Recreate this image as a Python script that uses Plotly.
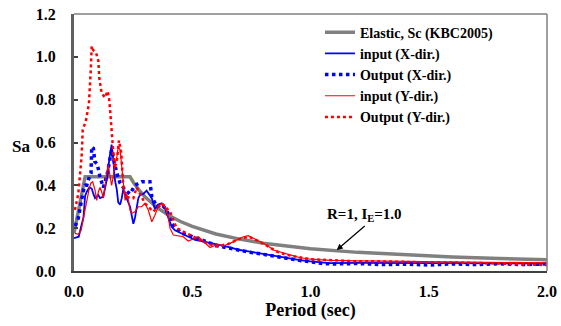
import plotly.graph_objects as go

# Elastic design spectrum (KBC2005, Sc)
period_elastic = [0.0, 0.047, 0.237, 0.25, 0.275, 0.3, 0.35, 0.4, 0.45, 0.5, 0.6, 0.7, 0.8, 0.9, 1.0,
                  1.2, 1.4, 1.6, 1.8, 2.0]
sa_elastic = [0.176, 0.44, 0.44, 0.416, 0.378, 0.347, 0.297, 0.26, 0.231, 0.208, 0.173, 0.149, 0.13, 0.116,
              0.104, 0.087, 0.074, 0.065, 0.058, 0.052]

# input (X-dir.)
period_in_x = [0.0, 0.02, 0.03, 0.04, 0.047, 0.054, 0.065, 0.075, 0.082, 0.089, 0.103, 0.11, 0.124, 0.131,
               0.141, 0.149, 0.159, 0.166, 0.173, 0.181, 0.187, 0.195, 0.202, 0.208, 0.216, 0.223, 0.23,
               0.237, 0.244, 0.251, 0.258, 0.265, 0.272, 0.279, 0.293, 0.307, 0.321, 0.329, 0.335, 0.342,
               0.356, 0.371, 0.385, 0.399, 0.413, 0.427, 0.455, 0.483, 0.512, 0.54, 0.575, 0.617, 0.66,
               0.70, 0.744, 0.786, 0.83, 0.87, 0.913, 0.956, 1.0, 1.04, 1.08, 1.2, 1.4, 1.6, 1.8, 2.0]
sa_in_x = [0.153, 0.16, 0.207, 0.25, 0.35, 0.37, 0.39, 0.385, 0.36, 0.34, 0.355, 0.34, 0.347, 0.38,
           0.44, 0.52, 0.59, 0.52, 0.425, 0.38, 0.32, 0.31, 0.34, 0.38, 0.36, 0.34, 0.32,
           0.30, 0.26, 0.22, 0.25, 0.30, 0.34, 0.355, 0.36, 0.375, 0.355, 0.34, 0.316, 0.29,
           0.31, 0.316, 0.29, 0.25, 0.207, 0.19, 0.176, 0.16, 0.145, 0.14, 0.13, 0.121, 0.11,
           0.098, 0.09, 0.082, 0.075, 0.067, 0.059, 0.051, 0.045, 0.04, 0.037, 0.038, 0.038, 0.036, 0.036, 0.034]

# Output (X-dir.)
period_out_x = [0.005, 0.018, 0.025, 0.033, 0.04, 0.047, 0.054, 0.065, 0.072, 0.075, 0.082, 0.088, 0.098,
                0.11, 0.124, 0.14, 0.159, 0.181, 0.195, 0.216, 0.237, 0.258, 0.286, 0.321, 0.329, 0.35,
                0.371, 0.392, 0.413, 0.427, 0.455, 0.483, 0.52, 0.56, 0.6, 0.65, 0.7, 0.75, 0.8, 0.85,
                0.9, 0.95, 1.0, 1.05, 1.1, 1.2, 1.3, 1.4, 1.5, 1.6, 1.7, 1.8, 1.9, 2.0]
sa_out_x = [0.21, 0.246, 0.29, 0.347, 0.378, 0.40, 0.40, 0.44, 0.456, 0.58, 0.573, 0.51, 0.50,
            0.44, 0.39, 0.45, 0.565, 0.456, 0.41, 0.378, 0.36, 0.40, 0.417, 0.417, 0.347, 0.30,
            0.31, 0.285, 0.22, 0.207, 0.176, 0.168, 0.153, 0.135, 0.12, 0.108, 0.095, 0.086, 0.078, 0.068,
            0.058, 0.05, 0.043, 0.035, 0.033, 0.035, 0.03, 0.032, 0.028, 0.033, 0.03, 0.034, 0.03, 0.033]

# input (Y-dir.)
period_in_y = [0.004, 0.018, 0.03, 0.039, 0.047, 0.054, 0.063, 0.071, 0.079, 0.089, 0.096, 0.103, 0.11,
               0.117, 0.124, 0.131, 0.138, 0.145, 0.152, 0.159, 0.166, 0.173, 0.181, 0.187, 0.195, 0.202,
               0.208, 0.216, 0.223, 0.23, 0.237, 0.244, 0.258, 0.272, 0.286, 0.30, 0.314, 0.329, 0.342,
               0.356, 0.371, 0.385, 0.399, 0.406, 0.42, 0.441, 0.462, 0.483, 0.498, 0.512, 0.526, 0.54,
               0.561, 0.575, 0.603, 0.631, 0.66, 0.688, 0.716, 0.737, 0.758, 0.786, 0.815, 0.843, 0.871,
               0.913, 0.956, 1.0, 1.04, 1.08, 1.2, 1.4, 1.6, 1.8, 2.0]
sa_in_y = [0.176, 0.171, 0.19, 0.24, 0.30, 0.33, 0.378, 0.41, 0.417, 0.378, 0.33, 0.37, 0.39,
           0.37, 0.34, 0.39, 0.46, 0.495, 0.44, 0.40, 0.44, 0.50, 0.53, 0.58, 0.565, 0.487,
           0.39, 0.33, 0.36, 0.33, 0.285, 0.27, 0.277, 0.30, 0.30, 0.316, 0.285, 0.23, 0.26,
           0.30, 0.316, 0.30, 0.25, 0.20, 0.168, 0.165, 0.16, 0.14, 0.145, 0.153, 0.16, 0.145,
           0.121, 0.11, 0.123, 0.117, 0.129, 0.145, 0.16, 0.165, 0.153, 0.137, 0.121, 0.098, 0.09,
           0.075, 0.062, 0.055, 0.051, 0.05, 0.047, 0.045, 0.043, 0.04, 0.038]

# Output (Y-dir.)
period_out_y = [0.004, 0.018, 0.032, 0.037, 0.05, 0.063, 0.071, 0.075, 0.082, 0.093, 0.103, 0.107, 0.117,
                0.131, 0.142, 0.148, 0.152, 0.155, 0.159, 0.163, 0.172, 0.182, 0.19, 0.2, 0.209, 0.223,
                0.237, 0.251, 0.265, 0.279, 0.30, 0.335, 0.371, 0.406, 0.434, 0.476, 0.518, 0.56, 0.6,
                0.65, 0.7, 0.74, 0.78, 0.82, 0.86, 0.9, 0.95, 1.0, 1.1, 1.2, 1.3, 1.4, 1.5, 1.6, 1.7,
                1.8, 1.9, 2.0]
sa_out_y = [0.285, 0.36, 0.53, 0.66, 0.70, 0.78, 0.94, 1.05, 1.03, 1.02, 0.98, 0.90, 0.83,
            0.81, 0.84, 0.81, 0.76, 0.70, 0.64, 0.60, 0.48, 0.52, 0.61, 0.55, 0.378, 0.347,
            0.34, 0.34, 0.39, 0.36, 0.316, 0.277, 0.316, 0.277, 0.20, 0.176, 0.153, 0.13, 0.115,
            0.125, 0.15, 0.16, 0.14, 0.115, 0.09, 0.075, 0.065, 0.055, 0.05, 0.045, 0.045, 0.042, 0.04,
            0.04, 0.038, 0.035, 0.03, 0.028]

series_names = ["Elastic, Sc (KBC2005)", "input (X-dir.)", "Output (X-dir.)",
                "input (Y-dir.)", "Output (Y-dir.)"]

x_ticks = [0.0, 0.5, 1.0, 1.5, 2.0]
y_ticks = [0.0, 0.2, 0.4, 0.6, 0.8, 1.0, 1.2]

FONT = "Liberation Serif"

fig = go.Figure()
fig.add_trace(go.Scatter(x=period_elastic, y=sa_elastic, mode="lines", name=series_names[0],
                         line=dict(color="#808080", width=3.5)))
fig.add_trace(go.Scatter(x=period_in_x, y=sa_in_x, mode="lines", name=series_names[1],
                         line=dict(color="#0000FF", width=1.8)))
fig.add_trace(go.Scatter(x=period_out_x, y=sa_out_x, mode="lines", name=series_names[2],
                         line=dict(color="#0000FF", width=3.5, dash="dot")))
fig.add_trace(go.Scatter(x=period_in_y, y=sa_in_y, mode="lines", name=series_names[3],
                         line=dict(color="#FF0000", width=1.2)))
fig.add_trace(go.Scatter(x=period_out_y, y=sa_out_y, mode="lines", name=series_names[4],
                         line=dict(color="#FF0000", width=2.5, dash="dot")))

fig.update_layout(
    width=561, height=326,
    margin=dict(l=74, r=14, t=14, b=55, autoexpand=False),
    plot_bgcolor="white", paper_bgcolor="white",
    font=dict(family=FONT, color="black", size=15, weight="bold"),
    showlegend=True,
    legend=dict(x=0.52, y=0.99, xanchor="left", yanchor="top",
                bgcolor="rgba(0,0,0,0)", borderwidth=0,
                font=dict(family=FONT, size=14, weight="bold"),
                tracegroupgap=0, itemwidth=30),
    xaxis=dict(range=[0, 2.0], tickvals=x_ticks, ticktext=[f"{v:.1f}" for v in x_ticks],
               ticks="", automargin=False,
               showgrid=False, zeroline=False, showline=True, linecolor="#404040", linewidth=2,
               tickfont=dict(family=FONT, size=16, weight="bold", color="black"), ticklabelstandoff=5,
               title=dict(text="Period (sec)", font=dict(family=FONT, size=18, weight="bold"), standoff=4)),
    yaxis=dict(range=[0, 1.2], tickvals=y_ticks, ticktext=[f"{v:.1f}" for v in y_ticks],
               ticks="inside", ticklen=4,
               tickcolor="#404040", tickwidth=1.5, automargin=False,
               showgrid=False, zeroline=False, showline=True, linecolor="#606060", linewidth=3,
               tickfont=dict(family=FONT, size=16, weight="bold", color="black"), ticklabelstandoff=12),
)

# top and right frame lines
fig.add_shape(type="line", xref="paper", yref="paper", x0=0, x1=1, y0=1, y1=1,
              line=dict(color="#808080", width=1.5))
fig.add_shape(type="line", xref="paper", yref="paper", x0=1, x1=1, y0=0, y1=1,
              line=dict(color="#808080", width=1.5))

# y-axis title, horizontal
fig.add_annotation(text="Sa", xref="paper", yref="paper", x=-0.112, y=0.486,
                   xanchor="center", yanchor="middle",
                   showarrow=False, font=dict(family=FONT, size=17, weight="bold"))

# label with arrow
fig.add_annotation(text="R=1, I<sub>E</sub>=1.0", x=1.111, y=0.098, xref="x", yref="y",
                   ax=28, ay=-24, showarrow=True, arrowhead=2, arrowsize=1, arrowwidth=1.2,
                   arrowcolor="black", font=dict(family=FONT, size=15, weight="bold"),
                   yanchor="bottom", xanchor="center")

fig.write_html("out.html", config={"displayModeBar": False},
               post_script="document.body.style.margin='0';")
